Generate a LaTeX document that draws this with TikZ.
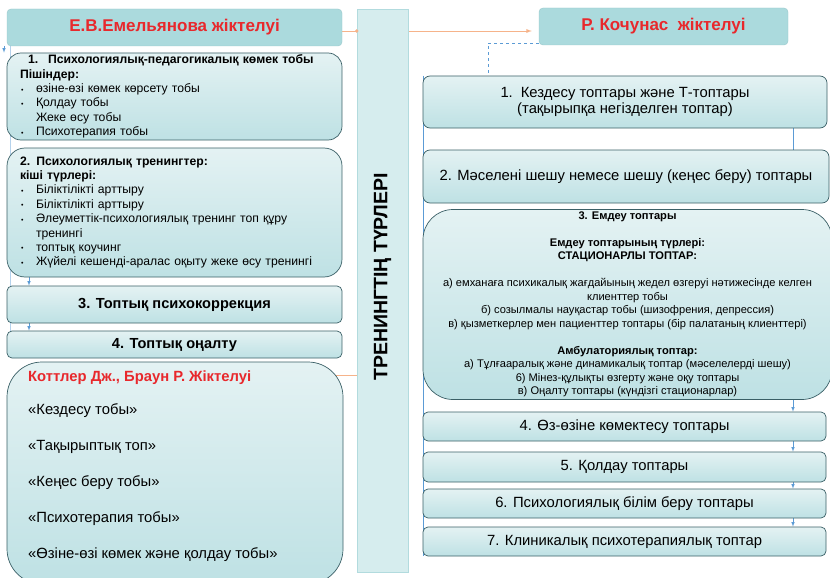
\documentclass[tikz,border=0pt]{standalone}
\usepackage{fontspec}
\setmainfont{Liberation Sans}
\usetikzlibrary{arrows, positioning, backgrounds}

\definecolor{cardTop}{HTML}{E4F2F3}
\definecolor{cardBot}{HTML}{BEE1E4}
\definecolor{cardLine}{HTML}{3A5F66}
\definecolor{headFill}{HTML}{ABDADD}
\definecolor{barFill}{HTML}{D6EDEE}
\definecolor{barLine}{HTML}{B2DBDE}
\definecolor{headRed}{HTML}{E8282C}
\definecolor{linkOrange}{HTML}{F6B38A}
\definecolor{linkBlue}{HTML}{5B9BD5}

\newcommand{\pxfont}[2]{\fontsize{#1}{#2}\selectfont}
\newcommand{\bul}{\hspace*{1pt}\makebox[15pt][l]{\raisebox{0.5pt}{\pxfont{7}{7}•}}}

\begin{document}
\begin{tikzpicture}[
        x=1pt, y=-1pt,
        card/.style={draw=cardLine, line width=0.7pt, rounded corners=#1,
            top color=cardTop, bottom color=cardBot, inner sep=0pt},
        card/.default=6pt,
        headbox/.style={fill=headFill, draw=headFill!85!cardLine, line width=0.4pt,
            rounded corners=4pt, text=headRed, font=\bfseries\pxfont{17}{20}},
        link/.style={draw=linkBlue, line width=0.6pt},
        hot/.style={draw=linkOrange, line width=0.9pt}
    ]
    \useasboundingbox (0,0) rectangle (830,578);
    \clip (0,0) rectangle (830,578);

    % left column
    \node(emelTitle)[headbox, minimum width=335pt, minimum height=37pt] at (174.5,27.5) {Е.В.Емельянова жіктелуі};

    \node(emelOne)[card=14pt, minimum width=335pt, minimum height=87pt, text width=309pt, align=left,
        font=\pxfont{12.2}{14.4}] at (174.5,96.5) {
        \hspace*{8pt}\textbf{1.\hspace{10pt}Психологиялық-педагогикалық көмек тобы}\\
        \textbf{Пішіндер:}\\
        \bul өзіне-өзі көмек көрсету тобы\\
        \bul Қолдау тобы\\
        \hspace*{16pt}Жеке өсу тобы\\
        \bul Психотерапия тобы};

    \node(emelTwo)[card=18pt, minimum width=335pt, minimum height=129pt, text width=309pt, align=left,
        font=\pxfont{12.2}{14.4}] at (174.5,212.5) {
        \textbf{2. Психологиялық тренингтер:}\\
        \textbf{кіші түрлері:}\\
        \bul Біліктілікті арттыру\\
        \bul Біліктілікті арттыру\\
        \bul Әлеуметтік-психологиялық тренинг топ құру\\
        \hspace*{16pt}тренингі\\
        \bul топтық коучинг\\
        \bul Жүйелі кешенді-аралас оқыту жеке өсу тренингі};

    \node(emelThree)[card=5pt, minimum width=335pt, minimum height=37pt,
        font=\bfseries\pxfont{14.6}{16}] at (174.5,304.5) {3. Топтық психокоррекция};
    \node(emelFour)[card=5pt, minimum width=335pt, minimum height=27pt,
        font=\bfseries\pxfont{14.6}{16}] at (174.5,344.5) {4. Топтық оңалту};

    \node(kotlerBox)[card=35pt, minimum width=336pt, minimum height=222pt] at (175,473) {};
    \node(kotlerList)[anchor=north west, align=left, inner sep=0pt, font=\pxfont{14.8}{36}] at (28,371) {
        \textcolor{headRed}{\textbf{Коттлер Дж., Браун Р. Жіктелуі}}\\[-3pt]
        «Кездесу тобы»\\
        «Тақырыптық топ»\\
        «Кеңес беру тобы»\\
        «Психотерапия тобы»\\
        «Өзіне-өзі көмек және қолдау тобы»};

    % middle bar
    \node(trainBar)[fill=barFill, draw=barLine, line width=0.6pt, minimum width=51pt, minimum height=563pt]
        at (382.5,290.5) {};
    \node(trainLabel)[rotate=90, font=\bfseries\pxfont{19.5}{22}] at (382.5,277) {ТРЕНИНГТІҢ ТҮРЛЕРІ};

    % right column
    \node(kochTitle)[headbox, minimum width=249pt, minimum height=37pt] at (663.5,26.5) {Р. Кочунас~ жіктелуі};

    \node(kochOne)[card=7pt, minimum width=404pt, minimum height=52pt, align=center,
        font=\pxfont{14.8}{16}] at (625,102) {1.\hspace{8pt}Кездесу топтары және Т-топтары\\(тақырыпқа негізделген топтар)};
    \node(kochTwo)[card=7pt, minimum width=406pt, minimum height=53pt,
        font=\pxfont{14.8}{16}] at (626,176.5) {2. Мәселені шешу немесе шешу (кеңес беру) топтары};

    \node(kochThree)[card=30pt, minimum width=409pt, minimum height=190pt, align=center,
        font=\pxfont{11.1}{13.5}] at (627.5,304.5) {
        \textbf{3. Емдеу топтары}\\[13.5pt]
        \textbf{Емдеу топтарының түрлері:}\\
        \textbf{СТАЦИОНАРЛЫ ТОПТАР:}\\[13.5pt]
        а) емханаға психикалық жағдайының жедел өзгеруі нәтижесінде келген\\
        клиенттер тобы\\
        б) созылмалы науқастар тобы (шизофрения, депрессия)\\
        в) қызметкерлер мен пациенттер топтары (бір палатаның клиенттері)\\[13.5pt]
        \textbf{Амбулаториялық топтар:}\\
        а) Тұлғааралық және динамикалық топтар (мәселелерді шешу)\\
        6) Мінез-құлықты өзгерту және оқу топтары\\
        в) Оңалту топтары (күндізгі стационарлар)};

    \node(kochFour)[card=5pt, minimum width=403pt, minimum height=29pt,
        font=\pxfont{14.8}{16}] at (624.5,426.5) {4. Өз-өзіне көмектесу топтары};
    \node(kochFive)[card=5pt, minimum width=403pt, minimum height=30pt,
        font=\pxfont{14.8}{16}] at (624.5,467) {5. Қолдау топтары};
    \node(kochSix)[card=5pt, minimum width=403pt, minimum height=29pt,
        font=\pxfont{14.8}{16}] at (624.5,503.5) {6. Психологиялық білім беру топтары};
    \node(kochSeven)[card=5pt, minimum width=403pt, minimum height=29pt,
        font=\pxfont{14.8}{16}] at (624.5,541.5) {7. Клиникалық психотерапиялық топтар};

    \coordinate (hotY) at (0,31);
    \coordinate (kotlerHot) at (334,375);
    \coordinate (leftLinkA) at (4,0);
    \coordinate (leftLinkB) at (10,0);
    \coordinate (leftLinkC) at (29,0);
    \coordinate (rightLinkA) at (488,0);
    \coordinate (rightLinkB) at (423,0);
    \coordinate (rightLinkC) at (793,0);

    \begin{scope}[on background layer]
        \draw[hot] (emelTitle.east |- hotY) -- (trainBar.west |- hotY);
        \draw[hot, ->, >=latex] (trainBar.east |- hotY) -- ([xshift=-7pt]kochTitle.west |- hotY);
        \draw[hot] (kotlerHot) -- (trainBar.west |- kotlerHot);

        \draw[link, ->, >=latex] (emelTitle.south -| leftLinkA) -- (emelOne.north -| leftLinkA);
        \draw[link, draw=linkBlue!45] (emelTitle.south -| leftLinkB) -- (emelFour.north -| leftLinkB);
        \draw[link, ->, >=latex] (emelTwo.south -| leftLinkC) -- (emelThree.north -| leftLinkC);
        \draw[link, ->, >=latex] (emelThree.south -| leftLinkC) -- (emelFour.north -| leftLinkC);

        \draw[link, dashed] ([yshift=2pt]kochTitle.south west) -| (kochOne.north -| rightLinkA);
        \draw[link] (kochOne.north -| rightLinkB) -- (kochSeven.south -| rightLinkB);
        \draw[link] (kochOne.south -| rightLinkC) -- (kochTwo.north -| rightLinkC);
        \draw[link, ->, >=latex] (kochThree.south -| rightLinkC) -- (kochFour.north -| rightLinkC);
        \draw[link, ->, >=latex] (kochFour.south -| rightLinkC) -- (kochFive.north -| rightLinkC);
        \draw[link, ->, >=latex] (kochFive.south -| rightLinkC) -- (kochSix.north -| rightLinkC);
        \draw[link, ->, >=latex] (kochSix.south -| rightLinkC) -- (kochSeven.north -| rightLinkC);
    \end{scope}
    \fill[linkOrange] (trainBar.west |- hotY) circle (1.8pt);
\end{tikzpicture}
\end{document}
